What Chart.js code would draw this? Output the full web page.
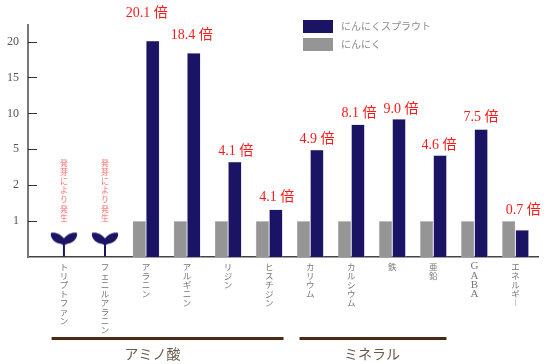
<!DOCTYPE html>
<html><head><meta charset="utf-8">
<style>html,body{margin:0;padding:0;background:#fff}#w{width:552px;height:364px}</style>
<script src="https://cdn.jsdelivr.net/npm/chart.js@4/dist/chart.umd.js"></script>
</head><body><div id="w"><canvas id="c" width="552" height="364"></canvas></div>
<script>
const categories = ['トリプトファン','フェニルアラニン','アラニン','アルギニン','リジン','ヒスチジン','カリウム','カルシウム','鉄','亜鉛','GABA','エネルギー'];
const sproutValues = [null,null,20.1,18.4,3.95,1.32,4.95,8.45,9.2,4.5,7.8,0.75];
const garlicValues = [null,null,1,1,1,1,1,1,1,1,1,1];
const ratioLabels = [null,null,'20.1 倍','18.4 倍','4.1 倍','4.1 倍','4.9 倍','8.1 倍','9.0 倍','4.6 倍','7.5 倍','0.7 倍'];
const ratioGaps = [0,0,28,19,12,13,12,12,11,11,13,21];
const ratioShift = [0,0,-6,-2,1,1,0,1,2,-1,0,1];
const yTicks = [1,2,5,10,15,20];
const yStops = [0,1,2,5,10,15,20];
const seedlingCategories = [0,1];
const seedlingValue = 0.35;
const sproutNote = '発芽により発生';
const groups = [
  {name:'アミノ酸', from:0, to:5},
  {name:'ミネラル', from:6, to:9}
];
const seriesNames = ['にんにくスプラウト','にんにく'];
const NAVY = '#1b1464', GREY = '#959595';
const SERIF = '"Liberation Serif","Noto Sans CJK JP",serif';
const CJK = '"Noto Sans CJK JP","Liberation Serif",sans-serif';

class PiecewiseScale extends Chart.LinearScale {
  static id = 'piecewise';
  static defaults = Chart.LinearScale.defaults;
  _pos(v){
    for (let i=1;i<yStops.length;i++){
      if (v<=yStops[i]) return (i-1)+(v-yStops[i-1])/(yStops[i]-yStops[i-1]);
    }
    return yStops.length-1+(v-20)/5;
  }
  buildTicks(){ return yTicks.map(v=>({value:v})); }
  getPixelForValue(v){ return this.getPixelForDecimal(this._pos(v)/this._pos(this.max)); }
}
Chart.register(PiecewiseScale);

function seedling(){
  const c=document.createElement('canvas'); c.width=28; c.height=26;
  const g=c.getContext('2d'); g.fillStyle=NAVY;
  g.beginPath(); g.moveTo(14,7);
  g.bezierCurveTo(11,3,6,0.5,1,1.5);
  g.bezierCurveTo(0,6,4,11,9,12);
  g.quadraticCurveTo(12,12.5,14,14);
  g.quadraticCurveTo(16,12.5,19,12);
  g.bezierCurveTo(24,11,28,6,27,1.5);
  g.bezierCurveTo(22,0.5,17,3,14,7);
  g.fill();
  g.fillRect(13,11,2,14);
  return c;
}

const extras = {
  id:'extras',
  afterDraw(chart){
    const {ctx, scales:{x,y}} = chart;
    ctx.save();
    ctx.strokeStyle='#333'; ctx.lineWidth=1;
    yTicks.forEach(v=>{
      const p=Math.round(y.getPixelForValue(v))+0.5;
      ctx.beginPath(); ctx.moveTo(x.left,p); ctx.lineTo(x.left+9,p); ctx.stroke();
    });
    ctx.fillStyle='#ff1a1a'; ctx.font='14px '+SERIF; ctx.textAlign='center'; ctx.textBaseline='middle';
    const meta=chart.getDatasetMeta(1);
    ratioLabels.forEach((t,i)=>{
      if(!t) return;
      const b=meta.data[i];
      ctx.fillText(t,b.x+ratioShift[i],b.y-ratioGaps[i]+1);
    });
    ctx.fillStyle='#ff6a6a'; ctx.font='8px '+CJK;
    seedlingCategories.forEach(i=>{
      [...sproutNote].forEach((ch,k)=>{
        ctx.fillText(ch,x.getPixelForValue(i),163+k*9.1);
      });
    });
    ctx.textAlign='left';
    [NAVY,GREY].forEach((col,i)=>{
      const ty=20+i*18;
      ctx.fillStyle=col; ctx.fillRect(303,ty,30,13);
      ctx.fillStyle='#8c8c8c'; ctx.font='10px '+CJK;
      ctx.fillText(seriesNames[i],341,ty+6);
    });
    ctx.textAlign='center';
    groups.forEach((g,gi)=>{
      const a=x.getPixelForValue(g.from-(gi?0.26:0.3));
      const b=x.getPixelForValue(g.to+(gi?0.32:0.35));
      ctx.fillStyle='#4a2a12'; ctx.fillRect(a,337,b-a,3);
      ctx.fillStyle='#6a5a4c'; ctx.font='14px '+CJK;
      ctx.fillText(g.name,(a+b)/2+(gi?-1:-15),354);
    });
    ctx.restore();
  }
};

const toPoints = arr => arr.map((v,i)=>({x:i,y:v}));
new Chart(document.getElementById('c'),{
  type:'bar',
  data:{datasets:[
    {label:seriesNames[1],data:toPoints(garlicValues),backgroundColor:GREY,borderColor:'#cfcfcf',borderWidth:0.5,barPercentage:1,categoryPercentage:0.655},
    {label:seriesNames[0],data:toPoints(sproutValues),backgroundColor:NAVY,borderColor:'#b4b4d8',borderWidth:0.5,barPercentage:1,categoryPercentage:0.655},
    {type:'scatter',label:'芽',data:seedlingCategories.map(i=>({x:i,y:seedlingValue})),pointStyle:seedling(),pointRadius:13,showLine:false}
  ]},
  options:{
    responsive:false,animation:false,
    layout:{padding:{top:25,right:12,left:0,bottom:0}},
    plugins:{legend:{display:false},tooltip:{enabled:false},title:{display:false}},
    scales:{
      x:{type:'linear',min:-0.875,max:11.55,offset:false,
        grid:{display:false,drawTicks:false},
        border:{color:'#444',width:1.5},
        afterFit(s){s.height=107;},
        ticks:{stepSize:1,includeBounds:false,autoSkip:false,maxRotation:0,minRotation:0,padding:5,color:'#777',
          font(c){return categories[c.tick&&c.tick.value]==='GABA'
            ?{family:SERIF,size:11,lineHeight:0.83}
            :{family:CJK,size:8.5,lineHeight:1.07};},
          callback(v){const n=categories[v]; return n?[...n].map(c=>c==='ー'?'︱':c):'';}
        }
      },
      y:{type:'piecewise',min:0,max:22.3,
        grid:{display:false,drawTicks:false},
        border:{color:'#777',width:2},
        afterFit(s){s.width=28;},
        ticks:{padding:9,color:'#555',autoSkip:false,font:{family:SERIF,size:12},callback:v=>String(v)}
      }
    }
  },
  plugins:[extras]
});
</script></body></html>
